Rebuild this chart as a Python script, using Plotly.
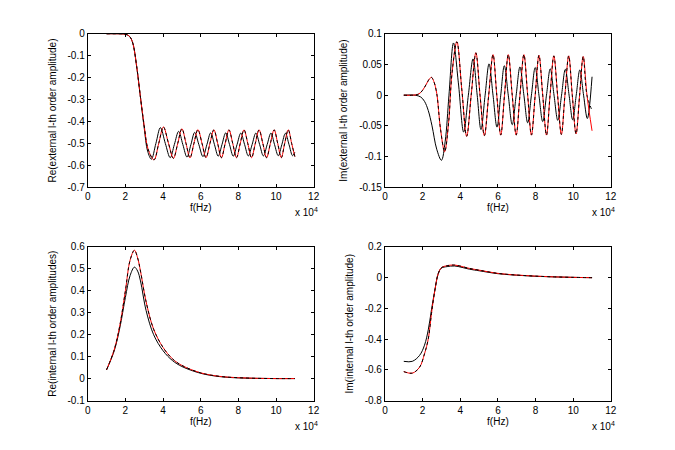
import numpy as np
import plotly.graph_objects as go
from plotly.subplots import make_subplots

# frequencies are written in units of 1e4 Hz and scaled below

# --- Re(external) ---
f_re_ext_red = [1.0, 1.5, 1.9, 2.1, 2.25, 2.4, 2.6, 2.8, 3.0, 3.2, 3.52, 3.77, 4.02, 4.29, 4.55,
                4.78, 5.0, 5.22, 5.43, 5.64, 5.85, 6.07, 6.28, 6.49, 6.7, 6.9, 7.1, 7.3, 7.5, 7.7,
                7.9, 8.1, 8.3, 8.5, 8.7, 8.9, 9.1, 9.3, 9.5, 9.7, 9.9, 10.09, 10.28, 10.46, 10.65,
                10.83, 11.0]
re_ext_red = [0, 0, -0.001, -0.005, -0.015, -0.045, -0.15, -0.29, -0.42, -0.525, -0.575, -0.5,
              -0.425, -0.5, -0.568, -0.5, -0.433, -0.5, -0.566, -0.5, -0.437, -0.5, -0.565, -0.5,
              -0.438, -0.5, -0.565, -0.5, -0.438, -0.5, -0.565, -0.5, -0.438, -0.5, -0.565, -0.5,
              -0.438, -0.5, -0.565, -0.5, -0.438, -0.5, -0.565, -0.5, -0.438, -0.5, -0.56]
f_re_ext_blk = [1.0, 1.5, 1.9, 2.1, 2.25, 2.4, 2.6, 2.8, 3.0, 3.18, 3.38, 3.62, 3.86, 4.12, 4.38,
                4.6, 4.83, 5.05, 5.27, 5.48, 5.68, 5.9, 6.12, 6.33, 6.53, 6.73, 6.93, 7.13, 7.33,
                7.53, 7.73, 7.93, 8.13, 8.33, 8.53, 8.73, 8.93, 9.13, 9.33, 9.53, 9.73, 9.92,
                10.12, 10.31, 10.5, 10.69, 10.88, 11.0]
re_ext_blk = [0, 0, -0.001, -0.005, -0.015, -0.045, -0.15, -0.29, -0.43, -0.535, -0.572, -0.5,
              -0.428, -0.5, -0.565, -0.505, -0.445, -0.505, -0.562, -0.505, -0.45, -0.505, -0.56,
              -0.505, -0.452, -0.505, -0.558, -0.505, -0.452, -0.505, -0.558, -0.505, -0.453,
              -0.505, -0.557, -0.505, -0.453, -0.505, -0.557, -0.505, -0.453, -0.505, -0.556,
              -0.505, -0.454, -0.505, -0.556, -0.54]

# --- Im(external) ---
f_im_ext_red = [1.0, 1.5, 1.8, 2.0, 2.2, 2.35, 2.47, 2.6, 2.75, 2.95, 3.17, 3.38, 3.56, 3.82,
                4.08, 4.34, 4.58, 4.83, 5.05, 5.28, 5.51, 5.74, 5.94, 6.15, 6.35, 6.55, 6.76,
                6.97, 7.17, 7.38, 7.58, 7.78, 7.98, 8.18, 8.38, 8.58, 8.77, 8.97, 9.17, 9.37,
                9.56, 9.76, 9.95, 10.15, 10.34, 10.53, 10.73, 11.0]
im_ext_red = [0, 0, 0.002, 0.008, 0.018, 0.026, 0.029, 0.022, 0.003, -0.055, -0.092, -0.045,
              0.035, 0.087, 0.01, -0.067, 0.0, 0.069, 0.0, -0.066, 0.0, 0.066, 0.0, -0.065, 0.0,
              0.066, 0.0, -0.065, 0.0, 0.066, 0.0, -0.065, 0.0, 0.065, 0.0, -0.065, 0.0, 0.064,
              0.0, -0.064, 0.0, 0.064, 0.0, -0.063, 0.0, 0.063, 0.0, -0.058]
f_im_ext_dash = f_im_ext_red
im_ext_dash = im_ext_red[:-1] + [-0.025]
f_im_ext_blk = [1.0, 1.6, 1.9, 2.1, 2.3, 2.5, 2.75, 3.0, 3.2, 3.4, 3.64, 3.9, 4.18, 4.43, 4.68,
                4.9, 5.1, 5.32, 5.53, 5.74, 5.95, 6.15, 6.34, 6.55, 6.76, 6.97, 7.17, 7.38, 7.58,
                7.78, 7.98, 8.18, 8.38, 8.58, 8.78, 8.98, 9.18, 9.38, 9.58, 9.78, 9.97, 10.16,
                10.35, 10.55, 10.75, 11.0]
im_ext_blk = [0, 0, -0.003, -0.01, -0.025, -0.05, -0.088, -0.106, -0.075, 0.0, 0.085, 0.02,
              -0.06, 0.0, 0.059, 0.0, -0.056, 0.0, 0.051, 0.0, -0.052, 0.0, 0.048, 0.0, -0.048,
              0.0, 0.046, 0.0, -0.045, 0.0, 0.045, 0.0, -0.043, 0.0, 0.043, 0.0, -0.041, 0.0,
              0.042, 0.0, -0.04, 0.0, 0.041, 0.0, -0.038, 0.03]

# --- Re(internal) ---
f_re_int = [1.0, 1.4, 1.7, 2.0, 2.25, 2.48, 2.65, 2.8, 3.1, 3.5, 4.0, 4.5, 5.0, 6.0, 7.0, 8.0,
            9.0, 10.0, 11.0]
re_int_red = [0.04, 0.13, 0.24, 0.4, 0.54, 0.585, 0.55, 0.49, 0.35, 0.225, 0.142, 0.09, 0.06,
              0.026, 0.01, 0.004, 0.001, 0.0, 0.0]
re_int_blk = [0.04, 0.125, 0.23, 0.37, 0.47, 0.508, 0.49, 0.445, 0.31, 0.2, 0.127, 0.082, 0.055,
              0.024, 0.009, 0.003, 0.001, 0.0, 0.0]

# --- Im(internal) ---
f_im_int = [1.0, 1.45, 1.84, 2.1, 2.3, 2.47, 2.65, 2.83, 3.0, 3.3, 3.7, 4.5, 5.0, 6.0, 7.0, 8.0,
            9.0, 10.0, 11.0]
im_int_red = [-0.612, -0.622, -0.583, -0.496, -0.4, -0.235, -0.083, 0.026, 0.065, 0.078, 0.082,
              0.06, 0.049, 0.028, 0.017, 0.01, 0.005, 0.002, 0.0]
im_int_blk = [-0.545, -0.545, -0.506, -0.44, -0.34, -0.21, -0.083, 0.026, 0.062, 0.072, 0.076,
              0.055, 0.045, 0.026, 0.016, 0.009, 0.005, 0.002, 0.0]

x_ticks = [0, 2, 4, 6, 8, 10, 12]
y_ticks_tl = [0, -0.1, -0.2, -0.3, -0.4, -0.5, -0.6, -0.7]
y_ticks_tr = [0.1, 0.05, 0, -0.05, -0.1, -0.15]
y_ticks_bl = [0.6, 0.5, 0.4, 0.3, 0.2, 0.1, 0, -0.1]
y_ticks_br = [0.2, 0, -0.2, -0.4, -0.6, -0.8]

titles = ["Re(external l-th order amplitude)", "Im(external l-th order amplitude)",
          "Re(internal l-th order amplitudes)", "Im(internal l-th order amplitude)"]

FONT = "Liberation Sans, Arial, sans-serif"


def hz(v):
    return np.array(v) * 1e4


def lbl(v):
    return "%g" % v


fig = make_subplots(rows=2, cols=2)

panels = [
    (1, 1, [(f_re_ext_blk, re_ext_blk), (f_re_ext_red, re_ext_red), (f_re_ext_red, re_ext_red)]),
    (1, 2, [(f_im_ext_blk, im_ext_blk), (f_im_ext_red, im_ext_red), (f_im_ext_dash, im_ext_dash)]),
    (2, 1, [(f_re_int, re_int_blk), (f_re_int, re_int_red), (f_re_int, re_int_red)]),
    (2, 2, [(f_im_int, im_int_blk), (f_im_int, im_int_red), (f_im_int, im_int_red)]),
]
styles = [dict(color="black", width=1),
          dict(color="red", width=1),
          dict(color="black", width=1, dash="3px,3px")]

for r, c, series in panels:
    for (fx, fy), st in zip(series, styles):
        fig.add_trace(go.Scatter(x=hz(fx), y=fy, mode="lines", line=dict(shape="spline", **st),
                                 showlegend=False, hoverinfo="skip"), row=r, col=c)

doms_x = [[0.13, 0.4647], [0.5703, 0.905]]
doms_y = [[0.5838, 0.925], [0.11, 0.4512]]
yinfo = [(y_ticks_tl, [-0.7, 0]), (y_ticks_tr, [-0.15, 0.1]),
         (y_ticks_bl, [-0.1, 0.6]), (y_ticks_br, [-0.8, 0.2])]

axis_style = dict(showline=True, linecolor="black", linewidth=1, mirror="ticks",
                  ticks="inside", ticklen=3, tickcolor="black", showgrid=False,
                  zeroline=False, automargin=False,
                  tickfont=dict(family=FONT, size=10, color="black"))

for i in range(4):
    r, c = i // 2 + 1, i % 2 + 1
    fig.update_xaxes(domain=doms_x[c - 1], range=[0, 12e4], tickvals=hz(x_ticks),
                     ticktext=[lbl(v) for v in x_ticks],
                     title=dict(text="f(Hz)", standoff=1, font=dict(family=FONT, size=10)),
                     row=r, col=c, **axis_style)
    yt, yr = yinfo[i]
    fig.update_yaxes(domain=doms_y[r - 1], range=yr, tickvals=yt, ticktext=[lbl(v) for v in yt],
                     title=dict(text=titles[i], standoff=9, font=dict(family=FONT, size=10)),
                     row=r, col=c, **axis_style)
    ax = "" if i == 0 else str(i + 1)
    fig.add_annotation(text="x 10<sup>4</sup>", xref="x%s domain" % ax, yref="y%s domain" % ax,
                       x=1, y=0, xanchor="right", yanchor="top", xshift=6, yshift=-17,
                       showarrow=False, font=dict(family=FONT, size=10, color="black"))

fig.update_layout(width=675, height=450, margin=dict(l=0, r=0, t=0, b=0, autoexpand=False),
                  paper_bgcolor="white", plot_bgcolor="white", hovermode=False,
                  font=dict(family=FONT, size=10, color="black"))

# page body has a default 8px margin; drop it so the figure sits at the window origin
fig.write_html("out.html", config={"displayModeBar": False},
               post_script="document.body.style.margin='0';")
